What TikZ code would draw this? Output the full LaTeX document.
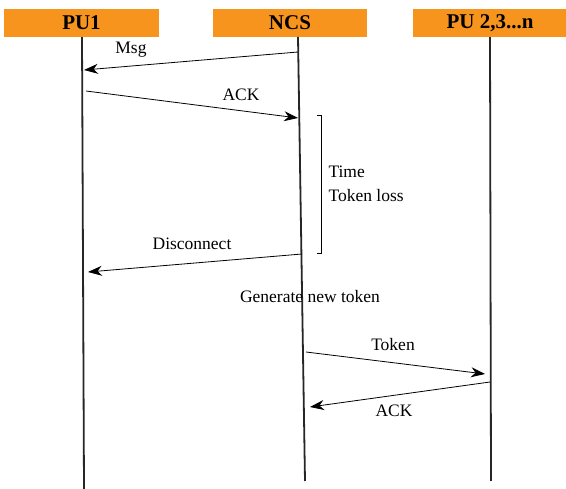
\documentclass[tikz,border=0pt]{standalone}
\usepackage{fontspec}
\setmainfont{Liberation Serif}
\usetikzlibrary{arrows.meta}
\begin{document}
\begin{tikzpicture}[x=1pt,y=-1pt, every node/.style={font=\fontsize{17.5}{20}\selectfont},
  head/.style={fill=puOrange, inner sep=0pt, minimum height=28pt, font=\fontsize{21}{24}\selectfont\bfseries},
  lifeline/.style={line width=1.8pt, draw=black!85},
  msg/.style={-{Stealth[length=14pt,width=10pt,inset=4.5pt]}, line width=0.8pt}]
  \definecolor{puOrange}{HTML}{F7941D}
  \useasboundingbox (0,0) rectangle (566,489);
  \node[head, minimum width=155pt] (pu1) at (81.5,23) {PU1};
  \node[head, minimum width=154pt] (ncs) at (290,23) {NCS};
  \node[head, minimum width=154pt] (pun) at (490,23) {PU 2,3...n};
  \coordinate (ncsTop) at (298,37);
  \coordinate (pu1Bot) at (84,489);
  \coordinate (ncsBot) at (305,481);
  \coordinate (punBot) at (491,481);
  \draw[lifeline] (pu1.south -| 82,0) -- (pu1Bot);
  \draw[lifeline] (ncsTop) -- (ncsBot);
  \draw[lifeline] (pun.south -| 490,0) -- (punBot);
  \coordinate (msgA) at (298,52);  \coordinate (msgB) at (84,70);
  \coordinate (ackA) at (86,91);   \coordinate (ackB) at (298,118);
  \coordinate (disA) at (302,254); \coordinate (disB) at (88,272);
  \coordinate (tokA) at (306,352); \coordinate (tokB) at (485,374);
  \coordinate (ackC) at (490,382); \coordinate (ackD) at (310,407);
  \draw[msg] (msgA) -- (msgB);
  \draw[msg] (ackA) -- (ackB);
  \draw[msg] (disA) -- (disB);
  \draw[msg] (tokA) -- (tokB);
  \draw[msg] (ackC) -- (ackD);
  \node (msgLbl) at (131,50) {Msg};
  \node (ackLbl) at (241,95) {ACK};
  \node (disLbl) at (192,244) {Disconnect};
  \node (genLbl) at (310,297) {Generate new token};
  \node (tokLbl) at (393,345) {Token};
  \node (ackLbl2) at (394,411) {ACK};
  \draw[line width=0.6pt] (317,115) -- (321,115) -- (321,253) -- (317,253);
  \node[anchor=west, align=left, font=\fontsize{17.5}{24}\selectfont] (lossLbl) at (325,184) {Time\\Token loss};
\end{tikzpicture}
\end{document}
